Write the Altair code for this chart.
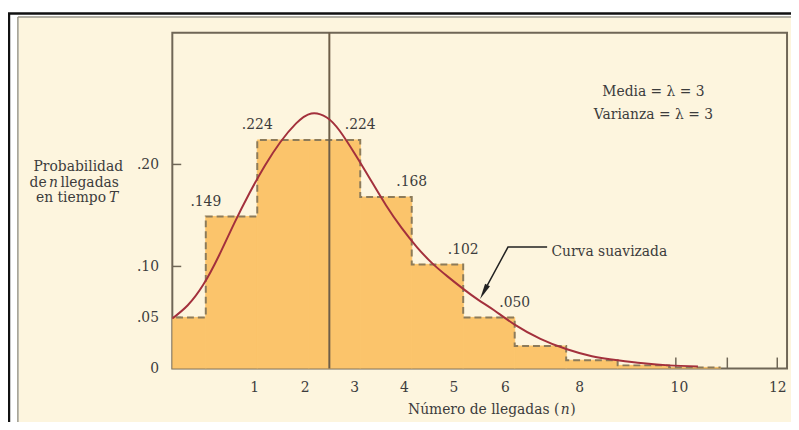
import altair as alt
import pandas as pd

# ---------------- data ----------------
n_vals = [0, 1, 2, 3, 4, 5, 6, 7, 8, 9, 10]
probs = [0.050, 0.149, 0.224, 0.224, 0.168, 0.102, 0.050, 0.022, 0.008, 0.003, 0.001]
shown_labels = [1, 2, 3, 4, 5, 6]

curve_x = [-0.65, -0.35, -0.05, 0.25, 0.55, 0.85, 1.15, 1.45, 1.75, 2.05, 2.35, 2.6,
           2.9, 3.2, 3.5, 3.8, 4.1, 4.4, 4.7, 5.0, 5.3, 5.6, 6.0, 6.5, 7.0, 7.5, 8.0,
           8.5, 9.0, 9.56]
curve_y = [0.049, 0.062, 0.082, 0.110, 0.142, 0.172, 0.199, 0.222, 0.240, 0.250, 0.246,
           0.233, 0.210, 0.185, 0.160, 0.138, 0.119, 0.103, 0.090, 0.078, 0.067, 0.057,
           0.043, 0.029, 0.019, 0.012, 0.008, 0.005, 0.003, 0.002]

mean_line = [2.4]

x_tick_pos = [0.94, 1.92, 2.88, 3.85, 4.81, 5.81, 7.25, 9.19, 11.1]
x_tick_labels = ["1", "2", "3", "4", "5", "6", "8", "10", "12"]
x_tick_marks = [9.13, 10.13, 11.1]
y_tick_vals = [0, 0.05, 0.10, 0.20]
y_tick_labels = ["0", ".05", ".10", ".20"]
y_tick_marks = [0.05, 0.10, 0.20]

leader_x = [6.63, 5.87, 5.47]
leader_y = [0.119, 0.119, 0.0816]
arrow_x = [5.40]
arrow_y = [0.0749]

# ---------------- styles ----------------
FONT = "DejaVu Serif"
BEIGE = "#FDF5DE"
BAR = "#FBC46B"
DASH = "#8C7B5A"
FRAME = "#6F6656"
CURVE = "#A3303C"
TXT = "#3C3C3C"

W, H = 621, 339
x_scale = alt.Scale(domain=[-0.65, 11.29], nice=False, zero=False)
y_scale = alt.Scale(domain=[0, 0.329], nice=False, zero=False)

bars = pd.DataFrame({"n": n_vals, "p": probs})
bars["x0"] = bars["n"] - 1
bars["x1"] = bars["n"]
bars["base"] = 0.0

steps = pd.DataFrame({"x": [n - 1 for n in n_vals] + [n_vals[-1]],
                      "y": probs + [probs[-1]]})

lab = bars[bars["n"].isin(shown_labels)].copy()
prev = [probs[n - 1] for n in lab["n"]]
lab["ax"] = [n - 1 if p > q else n for n, p, q in zip(lab["n"], lab["p"], prev)]
lab["txt"] = [("%.3f" % p)[1:] for p in lab["p"]]

curve = pd.DataFrame({"x": curve_x, "y": curve_y, "o": range(len(curve_x))})
leader = pd.DataFrame({"x": leader_x, "y": leader_y, "o": range(len(leader_x))})
arrow = pd.DataFrame({"x": arrow_x, "y": arrow_y})
mline = pd.DataFrame({"x": mean_line})
xt = pd.DataFrame({"x": x_tick_marks})
yt = pd.DataFrame({"y": y_tick_marks})
one = pd.DataFrame({"k": [0]})

x_expr = "[" + ",".join("'%s'" % s for s in x_tick_labels) + "][indexof([" + \
    ",".join(str(v) for v in x_tick_pos) + "], datum.value)]"
y_expr = "[" + ",".join("'%s'" % s for s in y_tick_labels) + "][indexof([" + \
    ",".join(str(v) for v in y_tick_vals) + "], datum.value)]"

x_axis = alt.Axis(values=x_tick_pos, labelExpr=x_expr, ticks=False, domain=False, grid=False,
                  labelPadding=12, labelFont=FONT, labelFontSize=14, labelColor=TXT,
                  title=None, zindex=1)
y_axis = alt.Axis(values=y_tick_vals, labelExpr=y_expr, ticks=False, domain=False, grid=False,
                  labelPadding=14, labelFont=FONT, labelFontSize=14, labelColor=TXT,
                  title=None, zindex=1)

# ---------------- decorations ----------------
panel = alt.Chart(one).mark_rect(fill=BEIGE).encode(
    x=alt.value(-155), x2=alt.value(630), y=alt.value(-15), y2=alt.value(420))
black_v = alt.Chart(one).mark_rule(color="#111111", strokeWidth=2.5).encode(
    x=alt.value(-165), y=alt.value(-20), y2=alt.value(420))
black_h = alt.Chart(one).mark_rule(color="#111111", strokeWidth=2.5).encode(
    x=alt.value(-166), x2=alt.value(630), y=alt.value(-19.5))
gray_v = alt.Chart(one).mark_rule(color="#9A9686", strokeWidth=1.5).encode(
    x=alt.value(-156), y=alt.value(-16), y2=alt.value(420))
gray_h = alt.Chart(one).mark_rule(color="#9A9686", strokeWidth=1.5).encode(
    x=alt.value(-156), x2=alt.value(630), y=alt.value(-16))
frame = alt.Chart(one).mark_rect(fill="transparent", stroke=FRAME, strokeWidth=2).encode(
    x=alt.value(0), x2=alt.value(W), y=alt.value(0), y2=alt.value(H))

xticks = alt.Chart(xt).mark_rule(color=FRAME, strokeWidth=1.5).encode(
    x=alt.X("x:Q", scale=x_scale, axis=x_axis), y=alt.value(H), y2=alt.value(H - 11))
yticks = alt.Chart(yt).mark_rule(color=FRAME, strokeWidth=1.5).encode(
    y=alt.Y("y:Q", scale=y_scale, axis=y_axis), x=alt.value(0), x2=alt.value(9))

# ---------------- data marks ----------------
bar_layer = alt.Chart(bars).mark_rect(color=BAR, stroke=BAR, strokeWidth=1, clip=True).encode(
    x=alt.X("x0:Q", scale=x_scale, axis=x_axis), x2="x1:Q",
    y=alt.Y("p:Q", scale=y_scale, axis=y_axis), y2="base:Q")

step_layer = alt.Chart(steps).mark_line(interpolate="step-after", color=DASH, strokeWidth=2,
                                        strokeDash=[7, 4], clip=True).encode(
    x=alt.X("x:Q", scale=x_scale), y=alt.Y("y:Q", scale=y_scale))

mean_layer = alt.Chart(mline).mark_rule(color="#6E5E48", strokeWidth=2).encode(
    x=alt.X("x:Q", scale=x_scale), y=alt.value(0), y2=alt.value(H))

curve_layer = alt.Chart(curve).mark_line(color=CURVE, strokeWidth=2, interpolate="natural").encode(
    x=alt.X("x:Q", scale=x_scale), y=alt.Y("y:Q", scale=y_scale), order="o:Q")

label_layer = alt.Chart(lab).mark_text(font=FONT, fontSize=14, color=TXT, dy=-15,
                                        baseline="middle", align="center").encode(
    x=alt.X("ax:Q", scale=x_scale), y=alt.Y("p:Q", scale=y_scale), text="txt:N")

leader_layer = alt.Chart(leader).mark_line(color="#222222", strokeWidth=1.5).encode(
    x=alt.X("x:Q", scale=x_scale), y=alt.Y("y:Q", scale=y_scale), order="o:Q")
arrow_layer = alt.Chart(arrow).mark_point(shape="M0,-1L0.35,1L-0.35,1Z", angle=208, size=256,
                                          filled=True, color="#222222", opacity=1).encode(
    x=alt.X("x:Q", scale=x_scale), y=alt.Y("y:Q", scale=y_scale))


def txt(s, x, y, align="center", italic=False, size=14):
    kw = dict(text=s, font=FONT, fontSize=size, color=TXT, align=align, baseline="middle")
    if italic:
        kw["fontStyle"] = "italic"
    return alt.Chart(one).mark_text(**kw).encode(x=alt.value(x), y=alt.value(y))


texts = [
    txt("Media = λ = 3", 486, 60),
    txt("Varianza = λ = 3", 486, 83),
    txt("Curva suavizada", 383, 221, align="left"),
    txt("Probabilidad", -95, 136),
    txt("de", -127, 152, align="right"),
    txt("n", -120, 152, italic=True),
    txt("llegadas", -113, 152, align="left"),
    txt("en tiempo", -67, 167, align="right"),
    txt("T", -64, 167, align="left", italic=True),
    txt("Número de llegadas (", 391, 381, align="right"),
    txt("n", 397, 381, italic=True),
    txt(")", 402, 381, align="left"),
]

chart = alt.layer(
    panel, black_v, black_h, gray_v, gray_h, xticks, yticks, frame,
    bar_layer, step_layer, mean_layer, curve_layer, label_layer,
    leader_layer, arrow_layer, *texts
).properties(
    width=W, height=H,
    autosize=alt.AutoSizeParams(type="none"),
    padding={"left": 166, "top": 23, "right": 4, "bottom": 52},
    background="#FFFFFF",
).configure_view(stroke="transparent")

chart.save("out.html", embed_options={"renderer": "svg", "actions": False})
